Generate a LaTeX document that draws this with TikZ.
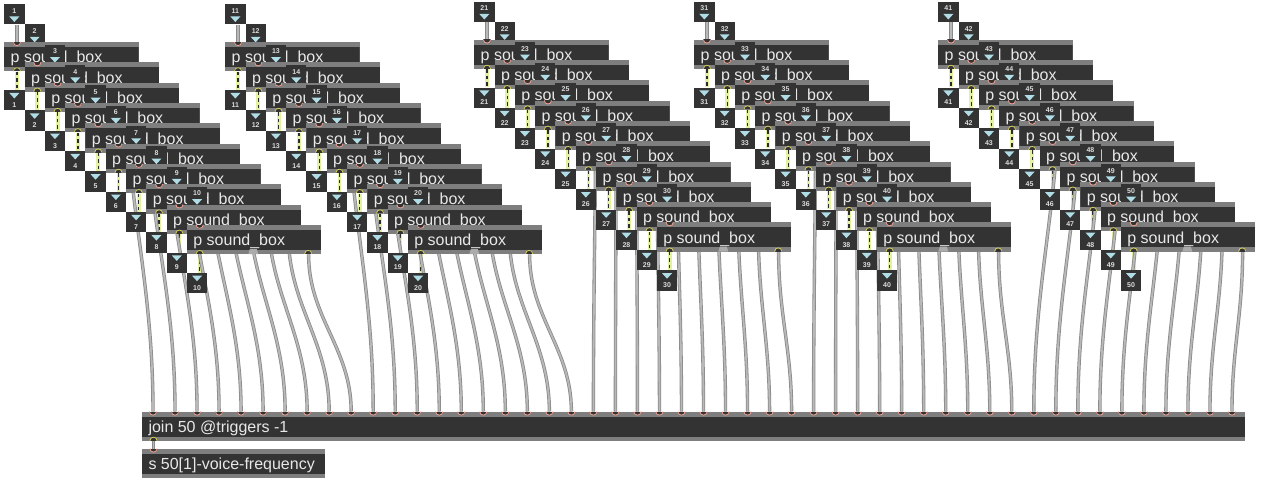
\documentclass[tikz,border=0pt]{standalone}
\usepackage{fontspec}
\setmainfont{Liberation Sans}
\usetikzlibrary{calc}
\pgfdeclarelayer{back}
\pgfdeclarelayer{cords}
\pgfsetlayers{back,cords,main}
\definecolor{body}{HTML}{333333}
\definecolor{strip}{HTML}{7E7E7E}
\definecolor{txt}{HTML}{E8E8E8}
\definecolor{numc}{HTML}{DCDCDC}
\definecolor{tri}{HTML}{B0DCE6}
\definecolor{cordout}{HTML}{8A8A8A}
\definecolor{cordin}{HTML}{B8B8B8}
\definecolor{sigy}{HTML}{E2F2A2}
\definecolor{sigdark}{HTML}{2C2C2C}
\definecolor{pinkarc}{HTML}{F0A090}
\definecolor{yelarc}{HTML}{D4CC5C}
\definecolor{blobc}{HTML}{ABABAB}
\newcommand\myinlet[3]{%
  \node[ibox] (i#1) at (#2,#3) {};
  \node[num] (in#1) at ($(i#1.north)+(0,6.8)$) {#1};
  \fill[tri] ($(i#1.north)+(-5,12.5)$) -- ++(10,0) -- ++(-5,5.5) -- cycle;
}
\newcommand\myoutlet[3]{%
  \node[ibox] (o#1) at (#2,#3) {};
  \fill[tri] ($(o#1.north)+(-5,3)$) -- ++(10,0) -- ++(-5,5.5) -- cycle;
  \node[num] (on#1) at ($(o#1.north)+(0,15)$) {#1};
}
\newcommand\inarc[2]{\filldraw[fill=body,draw=pinkarc,line width=0.8pt] (#1-3.6,#2) .. controls (#1-3.6,#2+4.8) and (#1+3.6,#2+4.8) .. (#1+3.6,#2);}
\newcommand\outarc[2]{\filldraw[fill=body,draw=yelarc,line width=0.8pt] (#1-3.6,#2) .. controls (#1-3.6,#2-4.8) and (#1+3.6,#2-4.8) .. (#1+3.6,#2);}
\begin{document}
\begin{tikzpicture}[x=1pt,y=-1pt,
  pbox/.style={anchor=north west, minimum width=134.5pt, minimum height=29.3pt,
    inner sep=0pt, fill=strip,
    path picture={\fill[body] ([yshift=-5pt]path picture bounding box.north west) rectangle ([yshift=4.3pt]path picture bounding box.south east);}},
  btext/.style={anchor=base west, inner sep=0pt, text=txt, font=\fontsize{16}{18}\selectfont},
  ibox/.style={anchor=north west, minimum size=20.3pt, inner sep=0pt, fill=body},
  num/.style={inner sep=0pt, text=numc, font=\fontsize{7}{8}\selectfont\bfseries},
  cord/.style={draw=cordout, line width=0.8pt, double=cordin, double distance=1.8pt},
  sig/.style={draw=sigy, line width=3.8pt, postaction={draw=sigdark, line width=1.3pt, dash pattern=on 3.5pt off 3pt}}]
\begin{pgfonlayer}{back}
\fill[white] (0,0) rectangle (1276,492);
\end{pgfonlayer}
\useasboundingbox (0,0) rectangle (1276,492);
% groups of ten
\foreach \g/\dx/\dy in {0/0/0,1/221/0,2/470/-2.5,3/690/-2.5,4/934/-2.5}{
  \foreach \k in {1,2}{
    \pgfmathtruncatemacro\n{10*\g+\k}
    \pgfmathsetmacro\L{4+\dx+20.3*(\k-1)}
    \pgfmathsetmacro\Ti{4+\dy+20.3*(\k-1)}
    \myinlet{\n}{\L}{\Ti}
  }
  \foreach \k in {1,...,10}{
    \pgfmathtruncatemacro\n{10*\g+\k}
    \pgfmathsetmacro\L{4+\dx+20.3*(\k-1)}
    \pgfmathsetmacro\T{42+\dy+20.3*(\k-1)}
    \node[pbox] (b\n) at (\L,\T) {};
    \node[btext] (t\n) at ($(b\n.north west)+(6.5,20.8)$) {p sound\_box};
    \inarc{\L+13}{\T}
    \outarc{\L+13}{\T+29.3}
    \ifnum\k=10
      \outarc{\L+121.5}{\T+29.3}
      \fill[blobc] (\L+61.6,\T+29.5) -- (\L+63.1,\T+24.5) -- (\L+70.1,\T+24.5) -- (\L+71.6,\T+29.5) -- cycle;
    \fi
    \ifnum\k<9
      \pgfmathtruncatemacro\m{\n+2}
      \pgfmathsetmacro\Lm{\L+40.6}
      \pgfmathsetmacro\Tm{\T+2.6}
      \myinlet{\m}{\Lm}{\Tm}
    \fi
    \pgfmathsetmacro\To{\T+48}
    \myoutlet{\n}{\L}{\To}
  }
}
% join and send
\node[pbox, minimum width=1103pt] (join) at (142,411.5) {};
\node[btext] (jt) at ($(join.north west)+(6.3,20.8)$) {join 50 @triggers -1};
\node[pbox, minimum width=183pt] (send) at (142,448.5) {};
\node[btext] (st) at ($(send.north west)+(6.3,20.8)$) {s 50[1]-voice-frequency};
\foreach \n in {1,...,50}{
  \pgfmathsetmacro\jx{153+22.02*(\n-1)}
  \coordinate (j\n) at (\jx,411.5);
  \inarc{\jx}{411.5}
}
\outarc{153.5}{440.8}
\inarc{153.5}{448.5}
% cords
\begin{pgfonlayer}{cords}
\foreach \n in {1,...,50}{
  \draw[sig] ([xshift=13pt]b\n.south west) -- ([xshift=13pt]o\n.north west);
}
\foreach \n in {1,...,50}{
  \draw[cord] ([xshift=13pt]i\n.south west) -- ([xshift=13pt]b\n.north west);
}
\foreach \n in {1,...,50}{
  \draw[cord] ([xshift=-13pt]b\n.south east) to[out=270,in=90] (j\n);
}
\draw[cord] ([xshift=11.5pt]join.south west) -- ([xshift=11.5pt]send.north west);
\end{pgfonlayer}
\end{tikzpicture}
\end{document}
